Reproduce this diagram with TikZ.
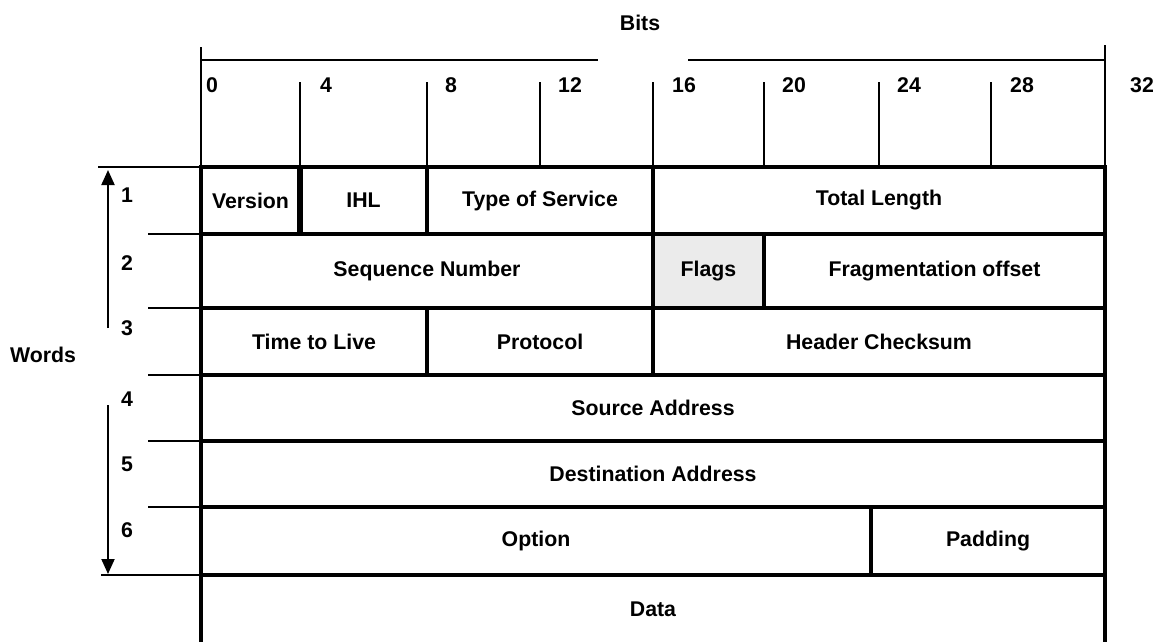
\documentclass[tikz,border=0pt]{standalone}
\usepackage{fontspec}
\setmainfont{Liberation Sans}
\usetikzlibrary{arrows.meta,positioning}

\begin{document}
\begin{tikzpicture}[
    x=1pt, y=-1pt,
    cell/.style={rectangle, draw=black, line width=4.5pt, inner sep=0pt, outer sep=0pt, anchor=north west, align=center, font=\fontsize{21.3}{24}\selectfont\bfseries},
    lbl/.style={inner sep=0pt, font=\fontsize{21.3}{24}\selectfont\bfseries},
    thin/.style={line width=2pt, draw=black},
    arr/.style={-{Triangle[length=15pt, width=13pt]}, line width=2pt, draw=black}
]
    \useasboundingbox (0,0) rectangle (1158,641);

    % bit scale
    \node [lbl] (bits) at (640,23) {Bits};
    \coordinate (topl) at (201,60);
    \coordinate (topr) at (1105,60);
    \draw [thin] (topl) -- (598,60);
    \draw [thin] (688,60) -- (topr);
    \draw [thin] (201,47) -- (201,167);
    \draw [line width=2.8pt] (1105,45) -- (1105,167);
    \foreach \x in {300,427,540,653,764,879,991}
        \draw [thin] (\x,82) -- (\x,167);
    \foreach \n/\x in {0/212,4/326,8/451,12/570,16/684,20/794,24/909,28/1022,32/1142}
        \node [lbl] (b\n) at (\x,85) {\n};

    % word 1
    \node [cell, minimum width=99pt, minimum height=67pt] (version) at (201,167) {Version};
    \node [cell, minimum width=127pt, minimum height=67pt] (ihl) at (300,167) {IHL};
    \node [cell, minimum width=226pt, minimum height=67pt] (tos) at (427,167) {Type of Service};
    \node [cell, minimum width=452pt, minimum height=67pt] (total) at (653,167) {Total Length};
    \draw [line width=6pt] (version.north east) -- (version.south east);

    % word 2
    \node [cell, minimum width=452pt, minimum height=74pt] (seq) at (201,234) {Sequence Number};
    \node [cell, minimum width=111pt, minimum height=74pt, fill=black!8] (flags) at (653,234) {Flags};
    \node [cell, minimum width=341pt, minimum height=74pt] (frag) at (764,234) {Fragmentation offset};

    % word 3
    \node [cell, minimum width=226pt, minimum height=67pt] (ttl) at (201,308) {Time to Live};
    \node [cell, minimum width=226pt, minimum height=67pt] (proto) at (427,308) {Protocol};
    \node [cell, minimum width=452pt, minimum height=67pt] (chk) at (653,308) {Header Checksum};

    % words 4 - 6
    \node [cell, minimum width=904pt, minimum height=66pt] (src) at (201,375) {Source Address};
    \node [cell, minimum width=904pt, minimum height=66pt] (dst) at (201,441) {Destination Address};
    \node [cell, minimum width=670pt, minimum height=68pt] (option) at (201,507) {Option};
    \node [cell, minimum width=234pt, minimum height=68pt] (pad) at (871,507) {Padding};

    % data
    \node [lbl] (data) at (653,609) {Data};
    \draw [line width=4.5pt] (option.south west) -- (201,645);
    \draw [line width=4.5pt] (pad.south east) -- (1105,645);

    % word scale
    \draw [thin] (98,167) -- (version.north west);
    \foreach \y in {234,308,375,441,507}
        \draw [thin] (148,\y) -- (201,\y);
    \draw [thin] (101,575) -- (option.south west);
    \draw [arr] (108,328) -- (108,170);
    \draw [arr] (108,405) -- (108,574);
    \foreach \n/\y in {1/195,2/263,3/328,4/399,5/464,6/530}
        \node [lbl] (w\n) at (127,\y) {\n};
    \node [lbl] (words) at (43,355) {Words};
\end{tikzpicture}
\end{document}
